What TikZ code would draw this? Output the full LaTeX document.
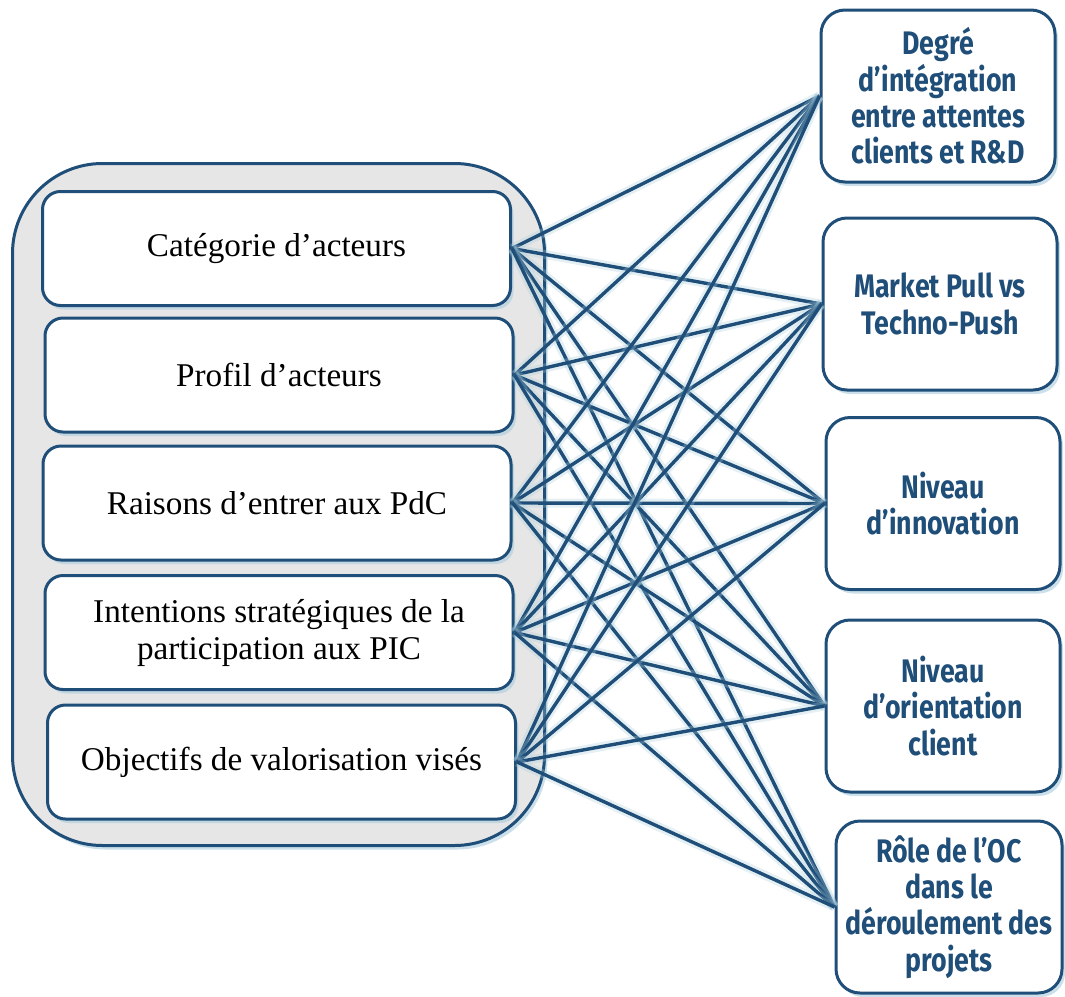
\documentclass[tikz,border=0pt]{standalone}
\usepackage{fontspec}
\setmainfont{Liberation Serif}
\newfontfamily\pdcsans[FakeStretch=0.82]{Fira Sans}
\usetikzlibrary{shadows}
\definecolor{pdcNavy}{HTML}{1F4E79}
\definecolor{pdcGray}{HTML}{E6E6E6}
\definecolor{pdcGlow}{HTML}{A9CCDC}
\tikzset{
  pdc shadow/.style={drop shadow={shadow xshift=1.5pt, shadow yshift=-2pt, fill=pdcGlow, opacity=0.6}},
  pdc frame/.style={draw=pdcNavy, fill=pdcGray, line width=1.5pt, rounded corners=45pt, minimum width=266pt, minimum height=341pt, pdc shadow},
  pdc var/.style={draw=pdcNavy, fill=white, line width=1.5pt, rounded corners=9pt, minimum width=234pt, minimum height=57pt, inner sep=0pt, align=center, font=\fontsize{16.6}{18.5}\selectfont, pdc shadow},
  pdc dim/.style={draw=pdcNavy, fill=white, line width=1.5pt, rounded corners=12pt, minimum width=117pt, minimum height=86pt, inner sep=0pt, align=center, text=pdcNavy, font=\pdcsans\bfseries\fontsize{16.3}{18.2}\selectfont, pdc shadow},
  pdc link/.style={draw=pdcNavy, line width=1.7pt, preaction={draw=pdcGlow, line width=4.5pt, opacity=0.3}},
}

\begin{document}
\begin{tikzpicture}[x=0.5pt,y=-0.5pt]
  \useasboundingbox (0,0) rectangle (1065,996);
  % outer panel
  \node[pdc frame] (panel) at (278.5,504.5) {};
  % variables on the left
  \node[pdc var] (v1) at (276.5,248.5) {Catégorie d’acteurs};
  \node[pdc var] (v2) at (279,375) {Profil d’acteurs};
  \node[pdc var] (v3) at (277,503) {Raisons d’entrer aux PdC};
  \node[pdc var] (v4) at (279,632.5) {Intentions stratégiques de la\\participation aux PIC};
  \node[pdc var] (v5) at (281.5,762) {Objectifs de valorisation visés};
  % dimensions on the right
  \node[pdc dim] (d1) at (938,96) {Degré\\d’intégration\\entre attentes\\clients et R\&D};
  \node[pdc dim] (d2) at (940,304) {Market Pull vs\\Techno-Push};
  \node[pdc dim] (d3) at (943,503.5) {Niveau\\d’innovation};
  \node[pdc dim] (d4) at (943,706) {Niveau\\d’orientation\\client};
  \node[pdc dim, minimum width=113pt] (d5) at (949,907) {Rôle de l’OC\\dans le\\déroulement des\\projets};
  % every variable to every dimension
  \foreach \i in {1,...,5} {
    \foreach \j in {1,...,5} {
      \draw[pdc link] (v\i.east) -- (d\j.west);
    }
  }
\end{tikzpicture}
\end{document}
